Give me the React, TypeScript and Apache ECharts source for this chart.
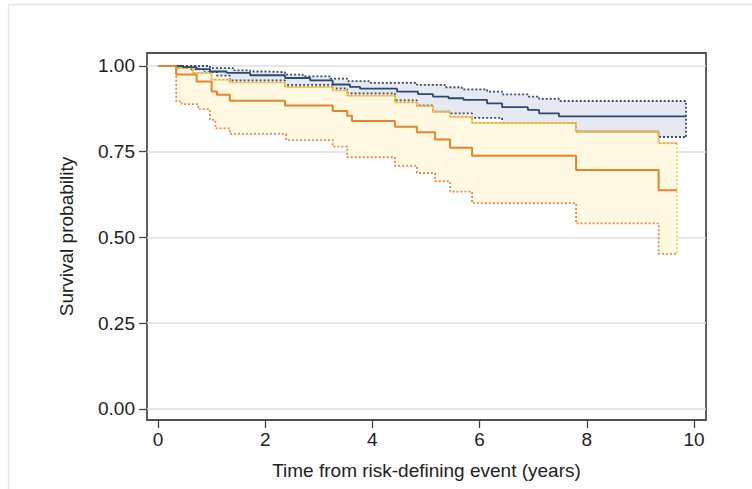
import React, { useEffect, useRef } from "react";
import * as echarts from "echarts";

const xTicks = [0, 2, 4, 6, 8, 10];
const yTicks = [0, 0.25, 0.5, 0.75, 1];

// Kaplan–Meier steps [time (years), survival]
const orangeKM: number[][] = [
  [0, 1.0], [0.34, 0.975], [0.72, 0.955], [1.0, 0.926], [1.1, 0.916], [1.34, 0.899],
  [2.37, 0.885], [3.26, 0.869], [3.53, 0.855], [3.62, 0.84], [4.42, 0.823], [4.83, 0.807],
  [5.17, 0.786], [5.45, 0.762], [5.86, 0.738], [7.8, 0.697], [9.34, 0.638], [9.68, 0.638],
];
const orangeUpper: number[][] = [
  [0, 1.0], [0.34, 0.994], [0.65, 0.98], [1.0, 0.96], [1.34, 0.952], [2.37, 0.939],
  [3.26, 0.929], [3.53, 0.914], [4.42, 0.894], [4.83, 0.883], [5.13, 0.867], [5.45, 0.852],
  [5.86, 0.834], [7.8, 0.809], [9.34, 0.775], [9.68, 0.775],
];
const orangeLower: number[][] = [
  [0, 1.0], [0.34, 0.897], [0.44, 0.889], [0.75, 0.874], [0.97, 0.843], [1.07, 0.818],
  [1.34, 0.802], [2.39, 0.784], [3.26, 0.765], [3.53, 0.734], [4.42, 0.709], [4.83, 0.688],
  [5.17, 0.664], [5.45, 0.634], [5.86, 0.6], [7.8, 0.541], [9.34, 0.452], [9.68, 0.452],
];
const blueKM: number[][] = [
  [0, 1.0], [0.47, 0.997], [0.72, 0.991], [0.97, 0.984], [1.28, 0.98], [1.72, 0.973],
  [2.37, 0.965], [2.84, 0.958], [3.26, 0.946], [3.58, 0.939], [3.77, 0.934], [4.46, 0.925],
  [4.85, 0.918], [5.13, 0.911], [5.42, 0.906], [5.7, 0.901], [6.14, 0.891], [6.42, 0.88],
  [6.9, 0.872], [7.11, 0.862], [7.48, 0.853], [9.85, 0.853],
];
const blueUpper: number[][] = [
  [0, 1.0], [0.97, 0.994], [1.4, 0.987], [1.72, 0.984], [2.0, 0.982], [2.37, 0.975],
  [2.7, 0.97], [3.21, 0.963], [3.53, 0.956], [3.96, 0.951], [4.83, 0.945], [5.35, 0.938],
  [5.67, 0.932], [6.14, 0.925], [6.42, 0.917], [6.9, 0.911], [7.11, 0.904], [7.48, 0.898],
  [9.85, 0.898],
];
const blueLower: number[][] = [
  [0, 1.0], [0.34, 0.995], [0.6, 0.99], [0.85, 0.982], [1.1, 0.972], [1.34, 0.958],
  [2.37, 0.945], [3.26, 0.935], [3.53, 0.92], [4.42, 0.9], [4.83, 0.885], [5.13, 0.867],
  [5.45, 0.862], [5.86, 0.849], [6.42, 0.834], [7.8, 0.809], [9.34, 0.793], [9.85, 0.793],
];

const FONT = "'Liberation Sans', Arial, Helvetica, sans-serif";
const FS = 19;

function band(upper: number[][], lower: number[][], color: string, z: number) {
  return {
    type: "custom",
    silent: true,
    z,
    data: [[upper[0][0], upper[0][1]]],
    renderItem: (_params: any, api: any) => {
      const pts: number[][] = [];
      for (let i = 0; i < upper.length; i++) {
        if (i > 0) pts.push(api.coord([upper[i][0], upper[i - 1][1]]));
        pts.push(api.coord(upper[i]));
      }
      for (let i = lower.length - 1; i >= 0; i--) {
        pts.push(api.coord(lower[i]));
        if (i > 0) pts.push(api.coord([lower[i][0], lower[i - 1][1]]));
      }
      return { type: "polygon", shape: { points: pts }, style: { fill: color } };
    },
  };
}

function stepLine(data: number[][], color: string, width: number, dash: any, z: number, dashOffset = 0) {
  return {
    type: "line",
    step: "end",
    data,
    z,
    silent: true,
    showSymbol: false,
    symbol: "none",
    lineStyle: { color, width, type: dash, dashOffset, cap: "butt" },
  };
}

export default function App() {
  const ref = useRef<HTMLDivElement>(null);
  useEffect(() => {
    const chart = echarts.init(ref.current!, null, { renderer: "svg" });
    const oEnd = orangeLower[orangeLower.length - 1];
    const bEnd = blueLower[blueLower.length - 1];
    const option: any = {
      animation: false,
      backgroundColor: "#ffffff",
      textStyle: { fontFamily: FONT },
      graphic: [
        {
          type: "rect",
          shape: { x: 8.5, y: 4.5, width: 800, height: 600 },
          style: { fill: "none", stroke: "#e6e6e6", lineWidth: 1.5 },
          silent: true,
          z: -10,
        },
      ],
      grid: {
        left: 147,
        top: 53,
        width: 559,
        height: 367,
        containLabel: false,
        outerBoundsMode: "none",
        show: true,
        borderColor: "#505050",
        borderWidth: 1.8,
        backgroundColor: "transparent",
      },
      xAxis: {
        type: "value",
        min: -0.205,
        max: 10.224,
        name: "Time from risk-defining event (years)",
        nameLocation: "middle",
        nameGap: 41,
        nameTextStyle: { fontSize: FS, color: "#222", fontFamily: FONT },
        axisLine: { show: false, onZero: false },
        axisTick: { show: true, customValues: xTicks, length: 8, lineStyle: { color: "#444", width: 1.3 } },
        axisLabel: {
          customValues: xTicks,
          margin: 10,
          fontSize: FS,
          color: "#222",
          fontFamily: FONT,
        },
        splitLine: { show: false },
      },
      yAxis: {
        type: "value",
        min: -0.0321,
        max: 1.0379,
        name: "Survival probability",
        nameLocation: "middle",
        nameGap: 71,
        nameTextStyle: { fontSize: FS, color: "#222", fontFamily: FONT },
        axisLine: { show: false, onZero: false },
        axisTick: { show: true, customValues: yTicks, length: 8, lineStyle: { color: "#444", width: 1.3 } },
        axisLabel: {
          customValues: yTicks,
          margin: 12,
          fontSize: FS,
          color: "#222",
          fontFamily: FONT,
          formatter: (v: number) => v.toFixed(2),
        },
        splitLine: { show: true, lineStyle: { color: "#dedede", width: 1.5 } },
      },
      series: [
        band(blueUpper, blueLower, "#e6e9f2", 1),
        band(orangeUpper, orangeLower, "#fff9e2", 2),
        stepLine([...blueLower], "#3b4a6b", 1.8, [2, 2], 3),
        stepLine([...blueUpper, [bEnd[0], bEnd[1]]], "#3b4a6b", 1.8, [2, 2], 3),
        stepLine(orangeLower, "#ea8a4a", 1.8, [2, 2], 4),
        stepLine([...orangeUpper, [oEnd[0], oEnd[1]]], "#f8d253", 1.8, [2, 2], 4),
        stepLine(orangeUpper, "#eea03c", 1.8, [2, 2], 5, 2),
        stepLine(blueKM, "#2b4a70", 1.8, "solid", 6),
        stepLine(orangeKM, "#ea8327", 2, "solid", 7),
      ],
    };
    chart.setOption(option);
    return () => chart.dispose();
  }, []);
  return (
    <div
      ref={ref}
      style={{ position: "fixed", left: 0, top: 0, width: 752, height: 489, background: "#fff" }}
    />
  );
}
